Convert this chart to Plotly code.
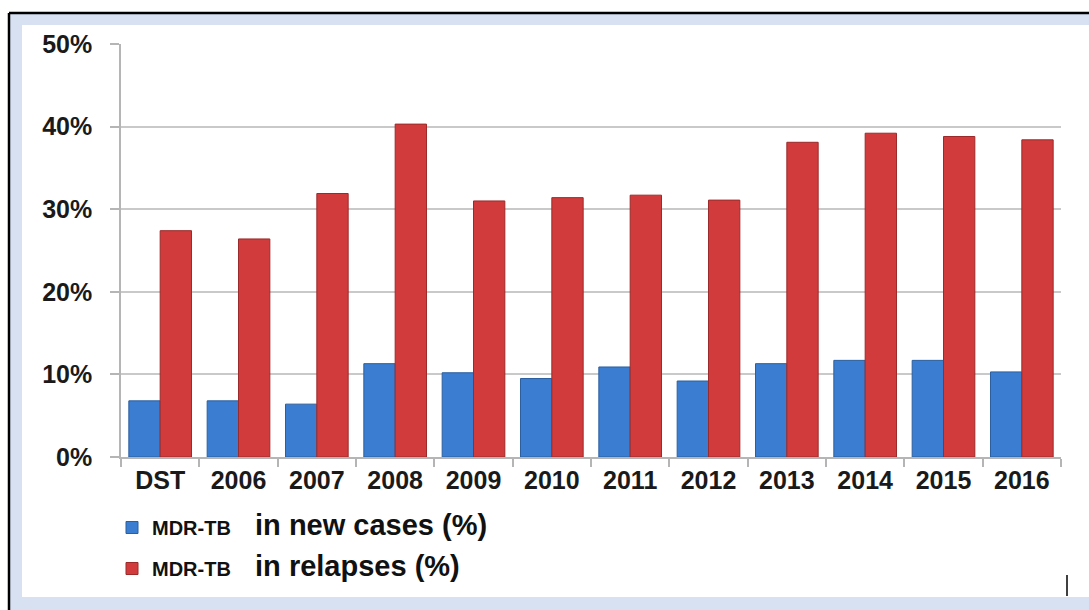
import plotly.graph_objects as go

# Categories and series (percent)
categories = ["DST", "2006", "2007", "2008", "2009", "2010",
              "2011", "2012", "2013", "2014", "2015", "2016"]
new_cases = [6.8, 6.8, 6.4, 11.3, 10.2, 9.5, 10.9, 9.2, 11.3, 11.7, 11.7, 10.3]
relapses = [27.4, 26.4, 31.9, 40.3, 31.0, 31.4, 31.7, 31.1, 38.1, 39.2, 38.8, 38.4]
y_ticks = [0, 10, 20, 30, 40, 50]
y_tick_text = [f"{v}%" for v in y_ticks]

W, H = 1089, 610
ML, MR, MT, MB = 121, 28, 44, 153
PW, PH = W - ML - MR, H - MT - MB


def px_x(px):
    return (px - ML) / PW


def px_y(py):
    return (H - MB - py) / PH


def legend_name(label):
    return ("<b>MDR-TB</b><span style='font-size:29px'><b>&nbsp;&nbsp;&nbsp;"
            + label + "</b></span>")


fig = go.Figure()
fig.add_trace(go.Bar(
    x=categories, y=new_cases, name=legend_name("in new cases (%)"),
    legendgroup="new",
    marker=dict(color="#3b7dd0", line=dict(color="#2b5f9f", width=1)),
))
fig.add_trace(go.Bar(
    x=categories, y=relapses, name=legend_name("in relapses (%)"),
    legendgroup="relapse",
    marker=dict(color="#d23b3b", line=dict(color="#9c2a2a", width=1)),
))

# Slide frame: black top/left rule with a pale blue band around the white card
shapes = [
    dict(type="rect", xref="paper", yref="paper", layer="below",
         x0=px_x(9), x1=px_x(W + 5), y0=px_y(H + 5), y1=px_y(13),
         fillcolor="#d7e1f2", line=dict(width=0)),
    dict(type="rect", xref="paper", yref="paper", layer="below",
         x0=px_x(22), x1=px_x(W + 5), y0=px_y(597), y1=px_y(25),
         fillcolor="white", line=dict(width=0)),
    dict(type="line", xref="paper", yref="paper", layer="below",
         x0=px_x(9), x1=px_x(W + 5), y0=px_y(13), y1=px_y(13),
         line=dict(color="black", width=2.5)),
    dict(type="line", xref="paper", yref="paper", layer="below",
         x0=px_x(9), x1=px_x(9), y0=px_y(13), y1=px_y(H + 5),
         line=dict(color="black", width=2.5)),
    dict(type="line", xref="paper", yref="paper", layer="below",
         x0=px_x(1067), x1=px_x(1067), y0=px_y(575), y1=px_y(596),
         line=dict(color="black", width=1.5)),
]

fig.update_layout(
    width=W, height=H,
    margin=dict(l=ML, r=MR, t=MT, b=MB),
    paper_bgcolor="white",
    plot_bgcolor="rgba(0,0,0,0)",
    barmode="group",
    bargap=0.2,
    bargroupgap=0,
    shapes=shapes,
    font=dict(family="Liberation Sans, Arial, sans-serif", color="#1a1a1a"),
    showlegend=True,
    legend=dict(
        x=px_x(112), xanchor="left",
        y=px_y(508), yanchor="top",
        bgcolor="rgba(0,0,0,0)",
        font=dict(size=20, color="#111111"),
        traceorder="grouped",
        tracegroupgap=12,
    ),
    xaxis=dict(
        type="category",
        showline=True, linecolor="#b5b5b5", linewidth=1.5,
        ticks="outside", tickson="boundaries", ticklen=8,
        tickcolor="#b5b5b5", tickwidth=1.5,
        tickfont=dict(size=25, color="#1a1a1a",
                      family="Liberation Sans, Arial, sans-serif",
                      weight="bold"),
        showgrid=False,
    ),
    yaxis=dict(
        range=[0, 50],
        tickmode="array",
        tickvals=y_ticks,
        ticktext=y_tick_text,
        showline=True, linecolor="#b5b5b5", linewidth=1.5,
        ticks="outside", ticklen=9, tickcolor="#b5b5b5", tickwidth=1.5,
        showgrid=True, gridcolor="#c9c9c9", gridwidth=1.5,
        zeroline=False,
        tickfont=dict(size=25, color="#1a1a1a",
                      family="Liberation Sans, Arial, sans-serif",
                      weight="bold"),
        ticklabelstandoff=13,
    ),
)

fig.write_html("out.html")
